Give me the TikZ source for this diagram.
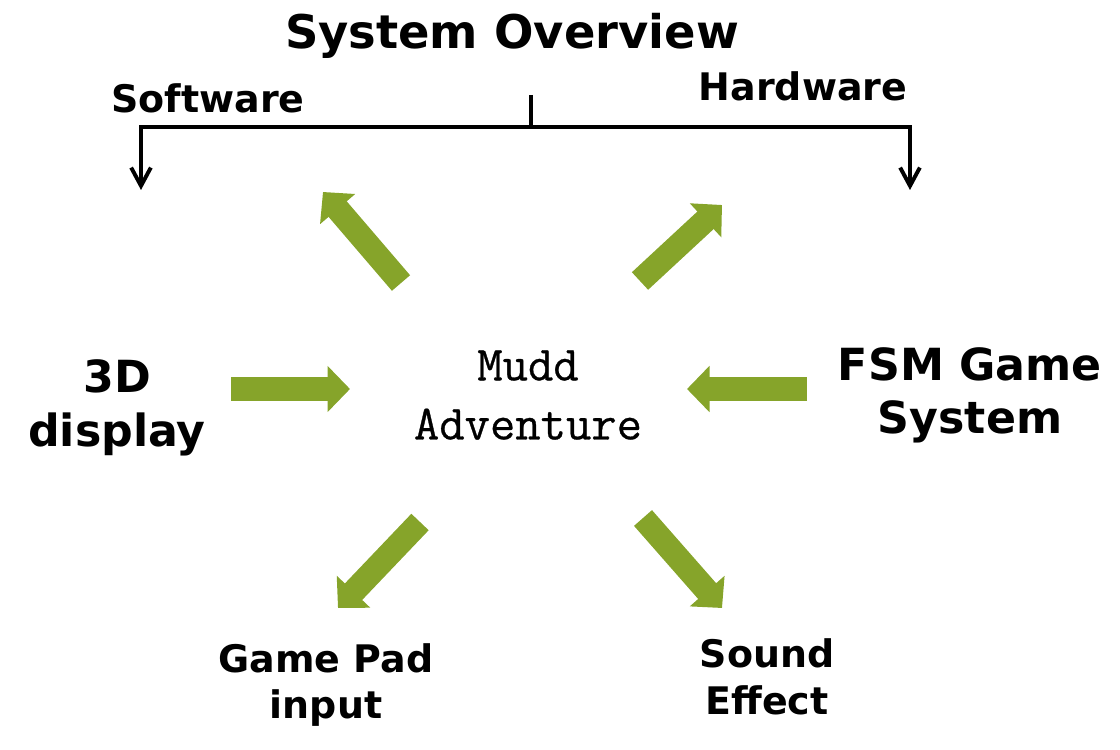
\documentclass[tikz,border=0pt]{standalone}
\usepackage{fontspec}
\setmainfont{DejaVu Sans}
\setmonofont[FakeBold=0.6]{Latin Modern Mono}
\usetikzlibrary{arrows.meta}

\definecolor{leafgreen}{RGB}{134,164,42}

\begin{document}
\begin{tikzpicture}[
        heading/.style={font=\bfseries\fontsize{33}{40}\selectfont, inner sep=0pt},
        biglabel/.style={font=\bfseries\fontsize{31.5}{38}\selectfont, align=center, inner sep=0pt},
        smalllabel/.style={font=\bfseries\fontsize{27}{33}\selectfont, align=center, inner sep=0pt},
        branch/.style={line width=2.8pt, -{Straight Barb[length=13pt,width=14pt]}},
        block/.style={draw=leafgreen, line width=17pt, -{Triangle[length=16pt,width=32pt]}}
    ]
        \useasboundingbox (0,0) rectangle (28,18.725);

        % Top: title and the two branches
        \node[heading, anchor=base] (title) at (12.8,17.5) {System Overview};
        \node[smalllabel, anchor=base] (software) at (5.2,15.9) {Software};
        \node[smalllabel, anchor=base] (hardware) at (20.075,16.2) {Hardware};

        \coordinate (root) at (13.275,16.35);
        \coordinate (split) at (13.275,15.55);
        \coordinate (swend) at (3.525,13.975);
        \coordinate (hwend) at (22.75,13.975);

        \path[draw, line width=2.8pt] (root) -- (split);
        \draw[branch] (split) -| (swend);
        \draw[branch] (split) -| (hwend);

        % Centre and the parts round it
        \node[font=\ttfamily\fontsize{35}{42}\selectfont, align=center, inner sep=0pt] (mudd) at (13.2,8.85) {Mudd \\ Adventure};
        \node[biglabel] (display) at (2.925,8.525) {3D \\ display};
        \node[biglabel] (fsm) at (24.25,8.84) {FSM Game \\ System};
        \node[smalllabel] (gamepad) at (8.15,1.6) {Game Pad \\ input};
        \node[smalllabel] (sound) at (19.175,1.8) {Sound \\ Effect};

        % Green block arrows
        \coordinate (leftA) at (5.775,9.0);   \coordinate (leftB) at (8.75,9.0);
        \coordinate (rightA) at (20.17,9.0);  \coordinate (rightB) at (17.175,9.0);
        \coordinate (ulA) at (10.025,11.65);  \coordinate (ulB) at (8.075,13.925);
        \coordinate (urA) at (16.0,11.7);     \coordinate (urB) at (18.05,13.6);
        \coordinate (dlA) at (10.5,5.675);    \coordinate (dlB) at (8.45,3.525);
        \coordinate (drA) at (16.075,5.775);  \coordinate (drB) at (18.05,3.525);

        \draw[block] (leftA) -- (leftB);
        \draw[block] (rightA) -- (rightB);
        \draw[block] (ulA) -- (ulB);
        \draw[block] (urA) -- (urB);
        \draw[block] (dlA) -- (dlB);
        \draw[block] (drA) -- (drB);
    \end{tikzpicture}
\end{document}
